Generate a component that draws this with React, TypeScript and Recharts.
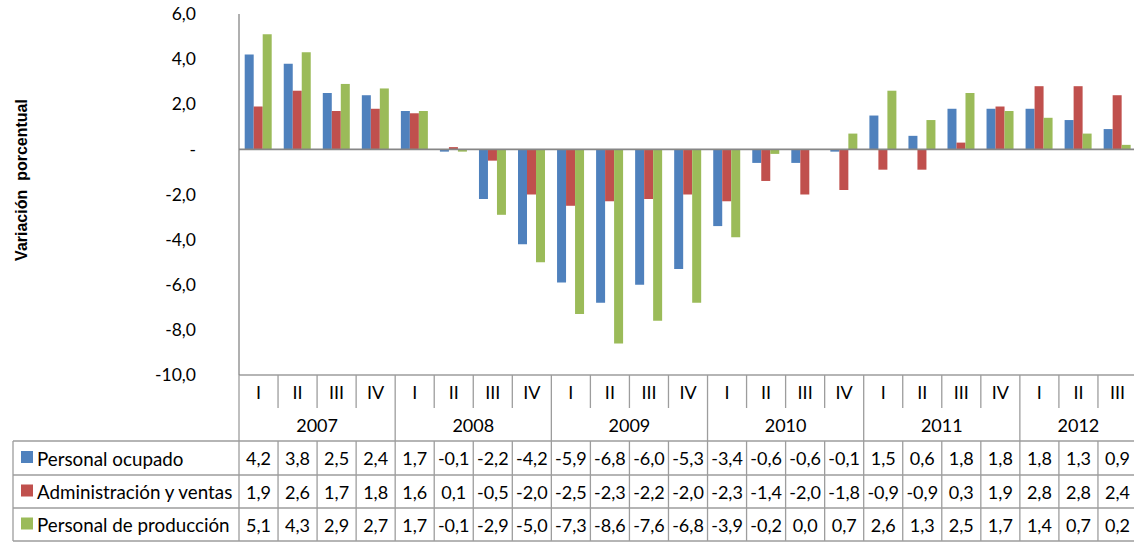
import React from "react";
import { BarChart, Bar, XAxis, YAxis, ReferenceLine } from "recharts";

const quarters = ["I", "II", "III", "IV", "I", "II", "III", "IV", "I", "II", "III", "IV", "I", "II", "III", "IV", "I", "II", "III", "IV", "I", "II", "III"];
const years = ["2007", "2007", "2007", "2007", "2008", "2008", "2008", "2008", "2009", "2009", "2009", "2009", "2010", "2010", "2010", "2010", "2011", "2011", "2011", "2011", "2012", "2012", "2012"];
const personalOcupado = [4.2, 3.8, 2.5, 2.4, 1.7, -0.1, -2.2, -4.2, -5.9, -6.8, -6.0, -5.3, -3.4, -0.6, -0.6, -0.1, 1.5, 0.6, 1.8, 1.8, 1.8, 1.3, 0.9];
const administracion = [1.9, 2.6, 1.7, 1.8, 1.6, 0.1, -0.5, -2.0, -2.5, -2.3, -2.2, -2.0, -2.3, -1.4, -2.0, -1.8, -0.9, -0.9, 0.3, 1.9, 2.8, 2.8, 2.4];
const produccion = [5.1, 4.3, 2.9, 2.7, 1.7, -0.1, -2.9, -5.0, -7.3, -8.6, -7.6, -6.8, -3.9, -0.2, 0.0, 0.7, 2.6, 1.3, 2.5, 1.7, 1.4, 0.7, 0.2];
const yTicks = [-10, -8, -6, -4, -2, 0, 2, 4, 6];

const series = [
  { key: "ocupado", name: "Personal ocupado", color: "#4F81BD", values: personalOcupado },
  { key: "admin", name: "Administración y ventas", color: "#C0504D", values: administracion },
  { key: "produccion", name: "Personal de producción", color: "#9BBB59", values: produccion },
];

const data = quarters.map((q, i) => ({
  key: `${years[i]}-${q}`,
  ocupado: personalOcupado[i],
  admin: administracion[i],
  produccion: produccion[i],
}));

// layout
const W = 1137;
const H = 542;
const PLOT_LEFT = 239;
const PLOT_TOP = 14;
const PLOT_BOTTOM = 375;
const BAND = (W - PLOT_LEFT) / quarters.length;
const ROW_Q = 392;
const ROW_Y = 425;
const ROWS = [441, 475, 508, 541];
const TABLE_LEFT = 13;
const GRID = "#9d9d9d";
const FONT = "Lato, 'Liberation Sans', sans-serif";

const fmt = (v: number) => v.toFixed(1).replace(".", ",");

function TableTick(props: any) {
  const { x, index } = props;
  const i = index as number;
  const left = x - BAND / 2;
  const isYearStart = i === 0 || years[i] !== years[i - 1];
  const yearCount = years.filter((y) => y === years[i]).length;
  return (
    <g fontFamily={FONT} fontSize={18} fill="#000">
      {i === 0 && (
        <g>
          {ROWS.map((ry) => (
            <line key={ry} x1={TABLE_LEFT} x2={W} y1={ry} y2={ry} stroke={GRID} strokeWidth={1.3} />
          ))}
          <line x1={TABLE_LEFT} x2={TABLE_LEFT} y1={ROWS[0]} y2={ROWS[3]} stroke={GRID} strokeWidth={1.3} />
          {series.map((s, r) => (
            <g key={s.key}>
              <rect x={21} y={(ROWS[r] + ROWS[r + 1]) / 2 - 7} width={12} height={12} fill={s.color} />
              <text x={37} y={(ROWS[r] + ROWS[r + 1]) / 2} fontSize={18.8} dominantBaseline="central">{s.name}</text>
            </g>
          ))}
        </g>
      )}
      {isYearStart ? (
        <line x1={left} x2={left} y1={PLOT_BOTTOM} y2={ROWS[3]} stroke={GRID} strokeWidth={1.3} />
      ) : (
        <g>
          <line x1={left} x2={left} y1={PLOT_BOTTOM} y2={408} stroke={GRID} strokeWidth={1.3} />
          <line x1={left} x2={left} y1={ROWS[0]} y2={ROWS[3]} stroke={GRID} strokeWidth={1.3} />
        </g>
      )}
      <text x={x} y={ROW_Q} textAnchor="middle" dominantBaseline="central">{quarters[i]}</text>
      {isYearStart && (
        <text x={left + (yearCount * BAND) / 2} y={ROW_Y} textAnchor="middle" dominantBaseline="central">{years[i]}</text>
      )}
      {series.map((s, r) => (
        <text key={s.key} x={x} y={(ROWS[r] + ROWS[r + 1]) / 2} textAnchor="middle" dominantBaseline="central">
          {fmt(s.values[i])}
        </text>
      ))}
    </g>
  );
}

export default function App() {
  return (
    <div style={{ position: "absolute", left: 0, top: 0, width: 1134, height: 542, overflow: "hidden", background: "#fff" }}>
      <BarChart
        width={W}
        height={H}
        data={data}
        margin={{ top: PLOT_TOP, right: 0, left: 0, bottom: 0 }}
        barCategoryGap="14.6%"
        barGap={0}
      >
        <XAxis
          dataKey="key"
          height={H - PLOT_BOTTOM}
          interval={0}
          tickLine={false}
          axisLine={{ stroke: GRID, strokeWidth: 1.3 }}
          tick={(p: any) => <TableTick {...p} />}
        />
        <YAxis
          width={PLOT_LEFT}
          domain={[-10, 6]}
          ticks={yTicks}
          interval={0}
          tickLine={false}
          tickSize={0}
          tickMargin={43}
          axisLine={{ stroke: "#868686", strokeWidth: 1.3 }}
          tick={{ fontFamily: FONT, fontSize: 17.5, fill: "#000" }}
          tickFormatter={(v: number) => (v === 0 ? "-" : fmt(v))}
          label={{
            content: () => (
              <text
                x={21}
                y={180}
                transform="rotate(-90 21 180)"
                textAnchor="middle"
                dominantBaseline="central"
                fontFamily="'Liberation Sans', Arial, sans-serif"
                fontWeight="bold"
                fontSize={16}
                fill="#000"
              >
                {"Variación\u00a0 porcentual"}
              </text>
            ),
          }}
        />
        {series.map((s) => (
          <Bar key={s.key} dataKey={s.key} name={s.name} fill={s.color} isAnimationActive={false} />
        ))}
        <ReferenceLine y={0} stroke="#868686" strokeWidth={1.6} />
      </BarChart>
    </div>
  );
}
